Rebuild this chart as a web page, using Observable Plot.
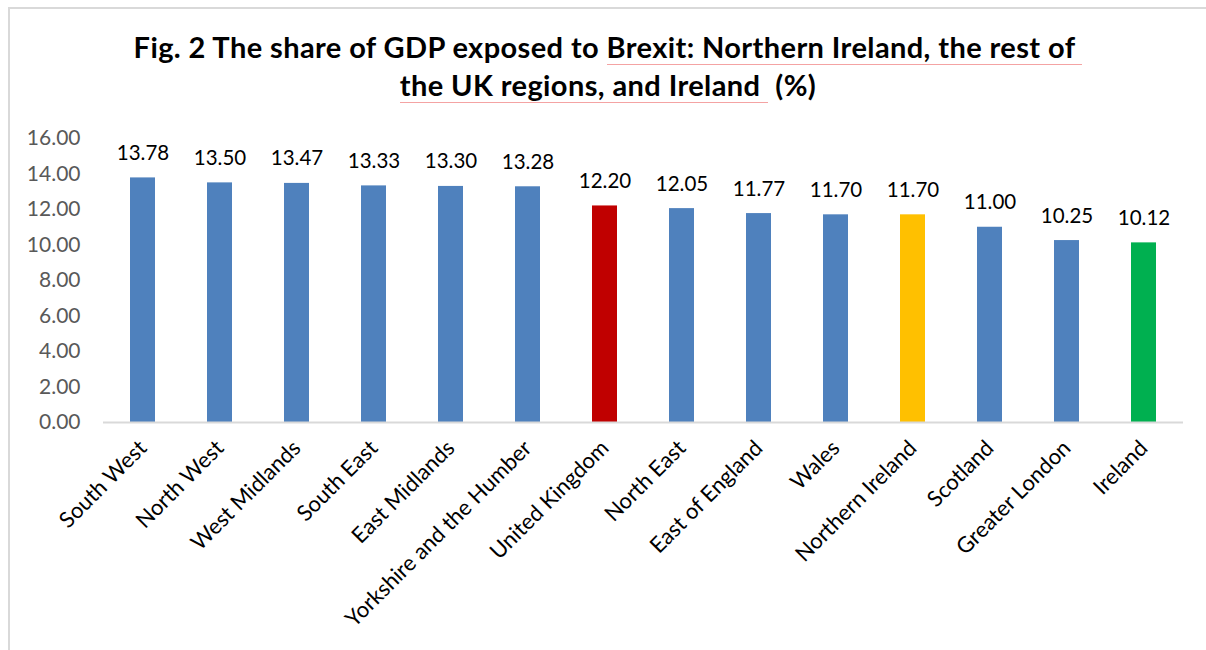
<!DOCTYPE html>
<html>
<head>
<meta charset="utf-8">
<script src="https://cdn.jsdelivr.net/npm/d3@7"></script>
<script src="https://cdn.jsdelivr.net/npm/@observablehq/plot@0.6"></script>
<style>
  html, body { margin: 0; padding: 0; background: #fff; }
  #page { position: relative; width: 1206px; height: 650px; overflow: hidden; background: #fff; }
  #frame { position: absolute; left: 8px; top: 7px; width: 1300px; height: 700px;
           border-left: 2px solid #d9d9d9; border-top: 2px solid #d9d9d9; box-sizing: border-box; }
  #title { position: absolute; left: 0; top: 28px; width: 1216px; text-align: center;
           font-family: Lato, "Open Sans", sans-serif; font-weight: 700; font-size: 29px;
           letter-spacing: 0.4px; line-height: 38px; color: #000; }
  .sq { text-decoration: none; border-bottom: 1px solid #f4a3a3; padding-bottom: 0px; }
  #chart { position: absolute; left: 0; top: 110px; }
</style>
</head>
<body>
<div id="page">
  <div id="frame"></div>
  <div id="title">Fig. 2 The share of GDP exposed to <span class="sq">Brexit: Northern Ireland, the rest of&nbsp;</span><br><span class="sq">the UK regions, and Ireland&nbsp;</span>&nbsp;(%)</div>
  <div id="chart"></div>
</div>
<script>
const categories = ["South West", "North West", "West Midlands", "South East", "East Midlands",
  "Yorkshire and the Humber", "United Kingdom", "North East", "East of England", "Wales",
  "Northern Ireland", "Scotland", "Greater London", "Ireland"];
const values = [13.78, 13.50, 13.47, 13.33, 13.30, 13.28, 12.20, 12.05, 11.77, 11.70, 11.70, 11.00, 10.25, 10.12];
const yTicks = [0, 2, 4, 6, 8, 10, 12, 14, 16];
const defaultColor = "#4F81BD";
const highlightColors = { "United Kingdom": "#C00000", "Northern Ireland": "#FFC000", "Ireland": "#00B050" };

const data = categories.map((c, i) => ({ category: c, value: values[i] }));

const chart = Plot.plot({
  width: 1206,
  height: 540,
  marginTop: 28,
  marginBottom: 228,
  marginLeft: 103,
  marginRight: 23,
  style: { fontFamily: "Lato, 'Open Sans', sans-serif", background: "transparent" },
  x: { domain: categories, paddingInner: 0.675, paddingOuter: 0.3375, label: null },
  y: { domain: [0, 16], label: null },
  color: { type: "identity" },
  marks: [
    Plot.axisY({ ticks: yTicks, tickFormat: d => d.toFixed(2), tickSize: 0, tickPadding: 23,
                 fontSize: 21, color: "#595959", label: null }),
    Plot.axisX({ tickRotate: -45, tickSize: 0, tickPadding: 22, fontSize: 22, color: "#000", label: null }),
    Plot.barY(data, { x: "category", y: "value",
                      fill: d => highlightColors[d.category] || defaultColor }),
    Plot.ruleY([0], { stroke: "#d9d9d9", strokeWidth: 2 }),
    Plot.text(data, { x: "category", y: "value", text: d => d.value.toFixed(2),
                      dy: -18, lineAnchor: "bottom", fontSize: 20.5, fill: "#000" })
  ]
});
document.getElementById("chart").appendChild(chart);
</script>
</body>
</html>
